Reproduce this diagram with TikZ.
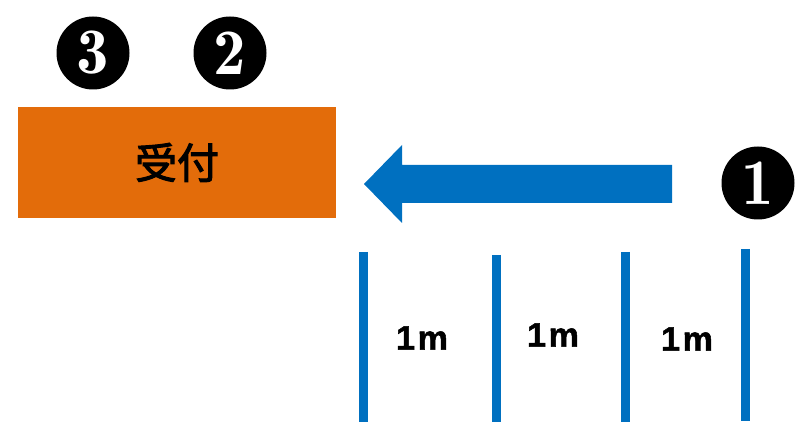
\documentclass[tikz,border=0pt]{standalone}
\usepackage{fontspec}
\newfontfamily\cjkb[FakeBold=2.5]{Noto Sans CJK JP}
\newfontfamily\labfont[FakeBold=1.5,LetterSpace=8]{Liberation Sans Bold}
\newfontfamily\numfont{Latin Modern Roman Demi}
\definecolor{boxorange}{HTML}{E36C0A}
\definecolor{arrowblue}{HTML}{0070C0}
\begin{document}
\begin{tikzpicture}[x=1pt,y=-1pt,
  numcircle/.style={circle,fill=black,text=white,minimum size=73pt,inner sep=0pt,
    font=\numfont\fontsize{65}{65}\selectfont},
  meter/.style={font=\labfont\fontsize{34}{34}\selectfont,inner sep=0pt},
  tick/.style={arrowblue,line width=9pt}]
\useasboundingbox (0,0) rectangle (798,422);
% box
\node[fill=boxorange,minimum width=318pt,minimum height=111pt,inner sep=0pt,
  font=\cjkb\fontsize{42}{42}\selectfont] (desk) at (177,162.5) {受付};
% numbers
\node[numcircle] (n3) at (93,53) {3};
\node[numcircle] (n2) at (230,53) {2};
\node[numcircle] (n1) at (758,183) {1};
% arrow
\fill[arrowblue] (672,165) -- (402,165) -- (402,145) -- (364,184) -- (402,223) -- (402,203) -- (672,203) -- cycle;
% ticks
\coordinate (t1a) at (363,252); \coordinate (t1b) at (363,422);
\coordinate (t2a) at (496,255); \coordinate (t2b) at (496,422);
\coordinate (t3a) at (625,252); \coordinate (t3b) at (625,422);
\coordinate (t4a) at (745,249); \coordinate (t4b) at (745,421);
\draw[tick] (t1a) -- (t1b);
\draw[tick] (t2a) -- (t2b);
\draw[tick] (t3a) -- (t3b);
\draw[tick] (t4a) -- (t4b);
% labels
\node[meter] (m1) at (422,338) {1m};
\node[meter] (m2) at (553,335) {1m};
\node[meter] (m3) at (687,339) {1m};
\end{tikzpicture}
\end{document}
